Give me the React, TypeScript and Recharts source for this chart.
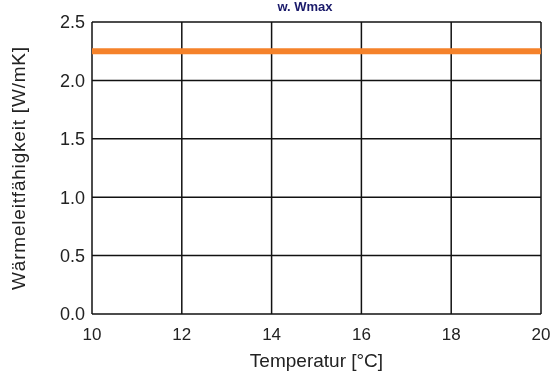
import { LineChart, Line, XAxis, YAxis, CartesianGrid } from 'recharts'

const temperatures = [10, 12, 14, 16, 18, 20]
const conductivity = [2.25, 2.25, 2.25, 2.25, 2.25, 2.25]
const xTicks = [10, 12, 14, 16, 18, 20]
const yTicks = [0, 0.5, 1, 1.5, 2, 2.5]

const data = temperatures.map((t, i) => ({ t, k: conductivity[i] }))

const font = '"Liberation Sans", Arial, sans-serif'

export default function App() {
  return (
    <div style={{ position: 'fixed', left: 0, top: 0, width: 553, height: 377, background: '#fff', fontFamily: font }}>
      <div style={{ position: 'absolute', left: 270, width: 70, top: 0, textAlign: 'center', fontSize: 13, lineHeight: '14px', color: '#1a1a6a', fontWeight: 'bold' }}>
        w. Wmax
      </div>
      <LineChart width={553} height={377} data={data} margin={{ top: 22, right: 12, left: 0, bottom: 0 }}>
        <CartesianGrid stroke="#111" strokeWidth={1.5} horizontalValues={yTicks} verticalValues={xTicks} />
        <XAxis
          dataKey="t"
          type="number"
          domain={[10, 20]}
          ticks={xTicks}
          axisLine={false}
          tickLine={false}
          height={63}
          tickMargin={8}
          tick={{ fill: '#222', fontSize: 17, fontFamily: font }}
          label={{ value: 'Temperatur [°C]', position: 'insideBottom', offset: 10, fill: '#222', fontSize: 19, fontFamily: font }}
        />
        <YAxis
          type="number"
          domain={[0, 2.5]}
          ticks={yTicks}
          axisLine={false}
          tickLine={false}
          width={92}
          tickMargin={1}
          tickFormatter={(v: number) => v.toFixed(1)}
          tick={{ fill: '#222', fontSize: 18, fontFamily: font }}
          label={{ value: 'Wärmeleitfähigkeit [W/mK]', angle: -90, position: 'center', dx: -28, fill: '#222', fontSize: 19, fontFamily: font, letterSpacing: 0.8 }}
        />
        <Line
          dataKey="k"
          stroke="#F5822A"
          strokeWidth={6}
          dot={false}
          isAnimationActive={false}
        />
      </LineChart>
    </div>
  )
}
